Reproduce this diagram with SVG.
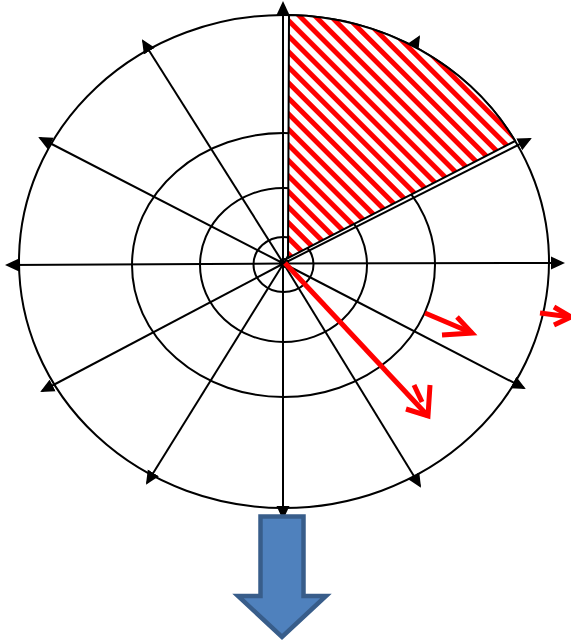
<svg xmlns="http://www.w3.org/2000/svg" width="571" height="644" viewBox="0 0 571 644">
<defs>
<marker id="ah" markerUnits="userSpaceOnUse" markerWidth="14" markerHeight="14" refX="12" refY="7" orient="auto" viewBox="0 0 14 14"><path d="M0,0.5 L14,7 L0,13.5 Z" fill="#000"/></marker>
<pattern id="hatch" patternUnits="userSpaceOnUse" width="11" height="11" patternTransform="rotate(-45)"><rect width="11" height="11" fill="#fff"/><rect width="5" height="11" fill="#f00"/></pattern>
</defs>
<style>
.ring{fill:none;stroke:#000;stroke-width:2}
.ray{fill:none;stroke:#000;stroke-width:2;marker-end:url(#ah)}
.red{fill:none;stroke:#f00;stroke-width:5;stroke-linejoin:miter}
</style>
<rect width="571" height="644" fill="#fff"/>
<g id="rings">
<ellipse id="ring-outer" class="ring" cx="284" cy="261.5" rx="265" ry="246.5"/>
<ellipse id="ring-middle" class="ring" cx="283.5" cy="265" rx="151.5" ry="132"/>
<ellipse id="ring-inner" class="ring" cx="283.5" cy="265" rx="83.5" ry="77"/>
<ellipse id="ring-small" class="ring" cx="283.5" cy="264.5" rx="30" ry="27.5"/>
<circle id="ring-center" class="ring" cx="284" cy="263" r="4" stroke-width="1.5"/>
</g>
<g id="connectors">
<line class="ray" x1="283" y1="263.5" x2="283" y2="3"/>
<line class="ray" x1="283.5" y1="263.5" x2="419" y2="37"/>
<line class="ray" x1="283.5" y1="263.5" x2="530" y2="139"/>
<line class="ray" x1="283.5" y1="263.5" x2="563" y2="263"/>
<line class="ray" x1="283.5" y1="263.5" x2="524" y2="388"/>
<line class="ray" x1="283.5" y1="263.5" x2="420" y2="486"/>
<line class="ray" x1="283" y1="263.5" x2="283" y2="518"/>
<line class="ray" x1="283.5" y1="263.5" x2="147" y2="483"/>
<line class="ray" x1="283.5" y1="263.5" x2="42" y2="391"/>
<line class="ray" x1="283.5" y1="263.5" x2="7" y2="265"/>
<line class="ray" x1="283.5" y1="263.5" x2="40" y2="138"/>
<line class="ray" x1="283.5" y1="263.5" x2="143" y2="41"/>
</g>
<g id="sector">
<path d="M288,258 L289,15.04 A265,246.5 0 0 1 515.2,141 Z" fill="url(#hatch)" stroke="#000" stroke-width="2" stroke-linejoin="round"/>
</g>
<g id="red-arrows">
<g id="red-arrow-main">
<path class="red" d="M285,263 L428,416"/>
<path class="red" d="M406,409 L428,416 L430,385"/>
<path class="red" d="M414,385 L422,402"/>
</g>
<g id="red-arrow-mid">
<path class="red" stroke-width="4.5" d="M425,313 L472,333"/>
<path class="red" stroke-width="4.5" d="M457,317 L472,333 L442,335"/>
</g>
<g id="red-arrow-right">
<path class="red" stroke-width="4.5" d="M540,313 L571,317"/>
<path class="red" stroke-width="4.5" d="M554,307 L571,317 L554,325"/>
</g>
</g>
<g id="blue-arrow">
<path d="M260.5,516.5 L303.5,516.5 L303.5,596 L326,596 L282,637 L238,596 L260.5,596 Z" fill="#4F81BD" stroke="#385D8A" stroke-width="4.5"/>
</g>
</svg>
